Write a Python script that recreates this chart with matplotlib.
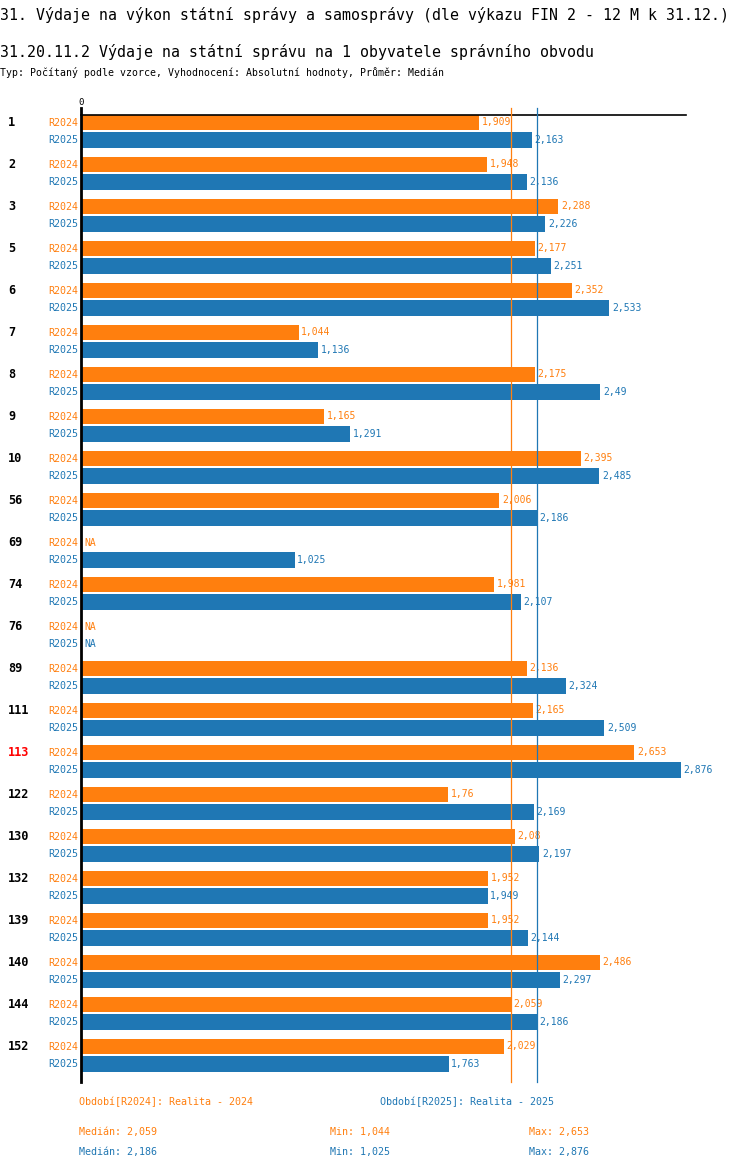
import numpy as np
import matplotlib
matplotlib.use("Agg")
import matplotlib.pyplot as plt
import matplotlib.transforms as mtransforms

# data
groups = ["1", "2", "3", "5", "6", "7", "8", "9", "10", "56", "69", "74", "76",
          "89", "111", "113", "122", "130", "132", "139", "140", "144", "152"]
r2024 = [1909, 1948, 2288, 2177, 2352, 1044, 2175, 1165, 2395, 2006, None, 1981, None,
         2136, 2165, 2653, 1760, 2080, 1952, 1952, 2486, 2059, 2029]
r2025 = [2163, 2136, 2226, 2251, 2533, 1136, 2490, 1291, 2485, 2186, 1025, 2107, None,
         2324, 2509, 2876, 2169, 2197, 1949, 2144, 2297, 2186, 1763]
series_names = ["R2024", "R2025"]
highlight = "113"

C24 = "#ff7f0e"
C25 = "#1f77b4"
FONT = "DejaVu Sans Mono"

W, H = 750, 1170
plt.rcParams['font.family'] = [FONT, 'DejaVu Sans']


def fmt(v):
    # 2490 -> "2,49", 1909 -> "1,909"
    s = f"{v:,}"
    if "," in s:
        s = s.rstrip("0").rstrip(",")
    return s


def stats(vals):
    v = [x for x in vals if x is not None]
    return int(np.median(v)), min(v), max(v)


fig = plt.figure(figsize=(W / 100, H / 100), dpi=100)

# axes in pixel coords: left 81, right 686, top 115, bottom 1082
ax_l, ax_r, ax_t, ax_b = 81, 686, 115, 1082
ax = fig.add_axes([ax_l / W, 1 - ax_b / H, (ax_r - ax_l) / W, (ax_b - ax_t) / H])
px_per_unit = 600 / 2876
ax.set_xlim(0, (ax_r - ax_l) / px_per_unit)
ax.set_ylim(ax_b - ax_t - 7.5, -7.5)
ax.axis("off")

pitch = 42
off = [0, 17.5]
bh = 15.5
ypos = np.arange(len(groups)) * pitch

for si, (vals, col) in enumerate([(r2024, C24), (r2025, C25)]):
    y = ypos + off[si]
    for yi, v in zip(y, vals):
        if v is None:
            ax.text(14, yi, "NA", color=col, fontsize=7.0, va="center", ha="left")
            continue
        ax.barh(yi, v, height=bh, color=col, left=0)
        ax.text(v + 12, yi, fmt(v), color=col, fontsize=7.0, va="center", ha="left")

# series labels and group labels left of axes
trans_lbl = mtransforms.blended_transform_factory(fig.transFigure, ax.transData)
for gi, g in enumerate(groups):
    ax.text(8 / W, ypos[gi], g, transform=trans_lbl, fontsize=8.6, fontweight="bold",
            color="red" if g == highlight else "black", va="center", ha="left")
    for si, col in enumerate([C24, C25]):
        ax.text(78 / W, ypos[gi] + off[si], series_names[si], transform=trans_lbl,
                fontsize=7.2, color=col, va="center", ha="right")

# median lines
med24, min24, max24 = stats(r2024)
med25, min25, max25 = stats(r2025)
y_top = ax.get_ylim()[1] - 7
y_bot = ax.get_ylim()[0]
ax.plot([med24, med24], [y_top, y_bot], color=C24, lw=0.9, clip_on=False, zorder=3)
ax.plot([med25, med25], [y_top, y_bot], color=C25, lw=0.9, clip_on=False, zorder=3)

# axis lines
ax.plot([0, ax.get_xlim()[1]], [-7.5, -7.5], color="black", lw=1.2, clip_on=False)
ax.plot([0, 0], [y_top, y_bot], color="black", lw=2, clip_on=False, zorder=4)
ax.text(0, y_top - 1, "0", fontsize=6.6, ha="center", va="bottom")


def ftext(x, y, s, **kw):
    fig.text(x / W, 1 - y / H, s, va="center", ha="left", **kw)


ftext(0, 15, "31. Výdaje na výkon státní správy a samosprávy (dle výkazu FIN 2 - 12 M k 31.12.)",
      fontsize=10.75)
ftext(0, 52, "31.20.11.2 Výdaje na státní správu na 1 obyvatele správního obvodu", fontsize=10.75)
ftext(0, 73, "Typ: Počítaný podle vzorce, Vyhodnocení: Absolutní hodnoty, Průměr: Medián",
      fontsize=7.15)

ftext(79, 1102, "Období[R2024]: Realita - 2024", fontsize=7.2, color=C24)
ftext(380, 1102, "Období[R2025]: Realita - 2025", fontsize=7.2, color=C25)
for yy, (md, mn, mx), col in [(1132, (med24, min24, max24), C24), (1152, (med25, min25, max25), C25)]:
    ftext(79, yy, f"Medián: {fmt(md)}", fontsize=7.2, color=col)
    ftext(330, yy, f"Min: {fmt(mn)}", fontsize=7.2, color=col)
    ftext(529, yy, f"Max: {fmt(mx)}", fontsize=7.2, color=col)

fig.savefig("out.png", dpi=100)
